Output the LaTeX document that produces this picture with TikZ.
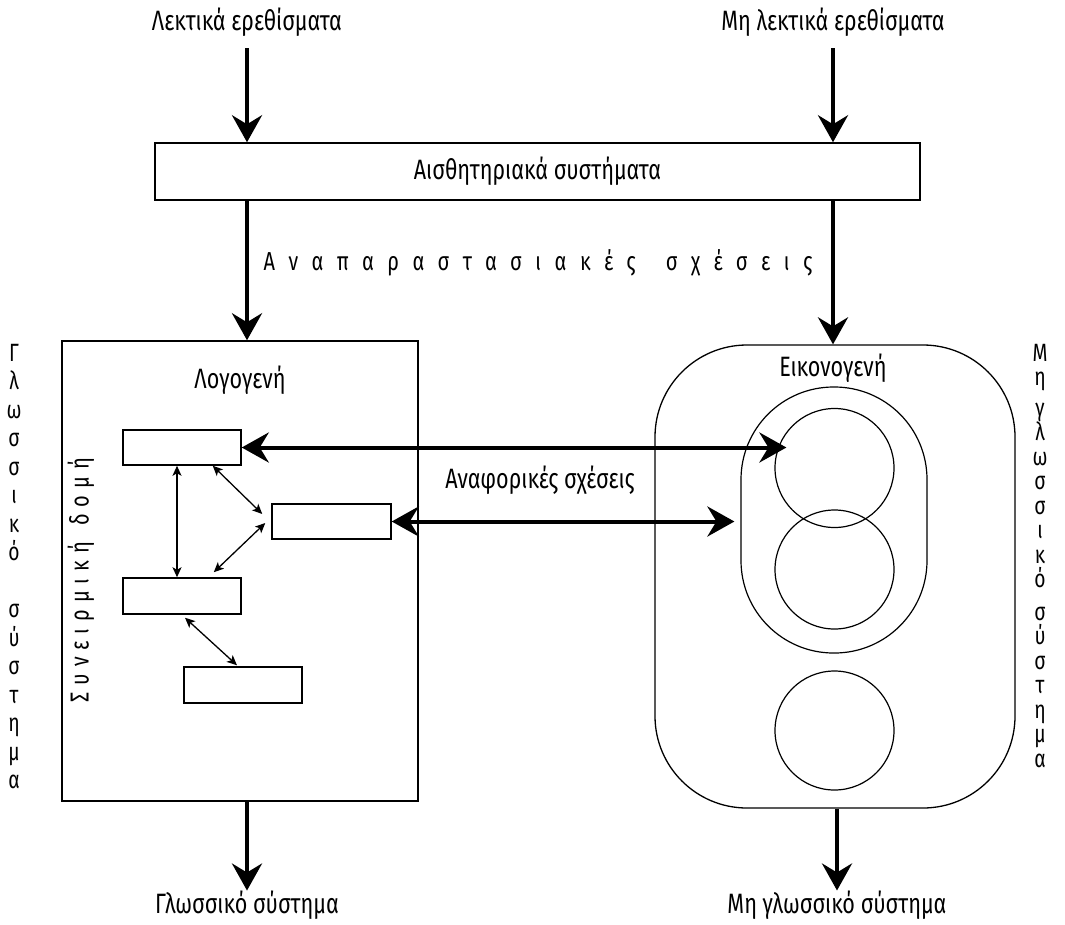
\documentclass[tikz,border=0pt]{standalone}
\usepackage{fontspec}
\setmainfont{Fira Sans}[FakeStretch=0.77]
\usetikzlibrary{arrows.meta,calc}
\begin{document}
\begin{tikzpicture}[x=1pt,y=-1pt,
  lbl/.style={font=\fontsize{28}{32}\selectfont, inner sep=0pt},
  box/.style={draw, line width=1.5pt, inner sep=0pt},
  sbox/.style={draw, line width=1.5pt, inner sep=0pt, minimum width=118pt, minimum height=35pt},
  ring/.style={draw, circle, line width=1.2pt, inner sep=0pt, minimum size=119pt},
  bigarr/.style={line width=4pt, -{Stealth[length=27pt,width=30pt,inset=9pt]}},
  dblarr/.style={line width=4pt, {Stealth[length=27pt,width=30pt,inset=9pt]}-{Stealth[length=27pt,width=30pt,inset=9pt]}},
  smarr/.style={line width=1.3pt, {Stealth[length=10pt,width=9pt,inset=2.5pt]}-{Stealth[length=10pt,width=9pt,inset=2.5pt]}},
  spacedh/.style={font=\fontsize{26}{30}\selectfont\addfontfeature{LetterSpace=52}, inner sep=0pt},
  spacedv/.style={font=\fontsize{26}{30}\selectfont\addfontfeature{LetterSpace=27}, inner sep=0pt}
]
\useasboundingbox (0,0) rectangle (1065,924);

% top labels
\node[lbl] (lt) at (247,22) {Λεκτικά ερεθίσματα};
\node[lbl] (mlt) at (833,22) {Μη λεκτικά ερεθίσματα};

% sensory box
\node[box, minimum width=765pt, minimum height=57pt, font=\fontsize{28}{32}\selectfont] (sens) at (537.5,171.5) {Αισθητηριακά συστήματα};

\draw[bigarr, shorten <=12pt] (lt.south) -- (sens.north -| lt.south);
\draw[bigarr, shorten <=12pt] (mlt.south) -- (sens.north -| mlt.south);

\node[spacedh] (rep) at (538,263) {Αναπαραστασιακές\hspace{30pt}σχέσεις};

% verbal box
\node[box, minimum width=356pt, minimum height=460pt] (logo) at (240,571) {};
\node[lbl] (logol) at (240,380) {Λογογενή};

% imagery box
\node[draw, line width=1.3pt, rounded corners=92pt, inner sep=0pt, minimum width=360pt, minimum height=463pt] (eiko) at (835,576.5) {};
\node[lbl] (eikol) at (833,368) {Εικονογενή};
\node[draw, line width=1.2pt, rounded corners=92.5pt, inner sep=0pt, minimum width=186pt, minimum height=266pt] (inner) at (834,520) {};
\node[ring] (c1) at (834.5,468) {};
\node[ring] (c2) at (834.5,569.5) {};
\node[ring] (c3) at (834.5,730.5) {};

\draw[bigarr] (sens.south -| lt.south) -- (logo.north -| lt.south);
\draw[bigarr] (sens.south -| mlt.south) -- (eiko.north -| mlt.south);

% bottom labels
\node[lbl] (gl) at (247,905) {Γλωσσικό σύστημα};
\node[lbl] (mgl) at (837,905) {Μη γλωσσικό σύστημα};
\draw[bigarr] (logo.south -| gl.north) -- (gl.north);
\draw[bigarr] (eiko.south -| mgl.north) -- (mgl.north);

% small boxes
\node[sbox] (A) at (182,447.5) {};
\node[sbox, minimum width=119pt] (B) at (331.5,521.5) {};
\node[sbox, minimum height=36pt] (C) at (182,596) {};
\node[sbox, minimum height=36pt] (D) at (243,685) {};

\node[spacedv, rotate=90] (assoc) at (81,580) {Συνειρμική\hspace{16pt}δομή};

\draw[smarr] ([xshift=-5pt]A.south) -- ([xshift=-5pt]C.north);
\draw[smarr] ($(A.south east)+(-29,0)$) -- ($(B.west)+(-9,-7.5)$);
\draw[smarr] ($(B.west)+(-6,1.5)$) -- ($(C.north east)+(-28,-5)$);
\draw[smarr] ($(C.south)+(3,3)$) -- ($(D.north)+(-6,-1)$);

% referential arrows
\node[lbl] (ref) at (540,480) {Αναφορικές σχέσεις};
\draw[dblarr] (A.east) -- ($(A.east -| c1.west)+(12,0)$);
\draw[dblarr] (B.east) -- ($(B.east -| inner.west)+(-6,0)$);

% side stacked labels
\node[align=center, inner sep=0pt, anchor=north, font=\fontsize{25}{28.5}\selectfont] (lsys) at (14,344)
 {Γ\\λ\\ω\\σ\\σ\\ι\\κ\\ό\\[28.5pt]σ\\ύ\\σ\\τ\\η\\μ\\α};
\node[align=center, inner sep=0pt, anchor=north, font=\fontsize{25}{24.5}\selectfont] (rsys) at (1040,344)
 {Μ\\η\\[6pt]γ\\λ\\ω\\σ\\σ\\ι\\κ\\ό\\[8pt]σ\\ύ\\σ\\τ\\η\\μ\\α};
\end{tikzpicture}
\end{document}
